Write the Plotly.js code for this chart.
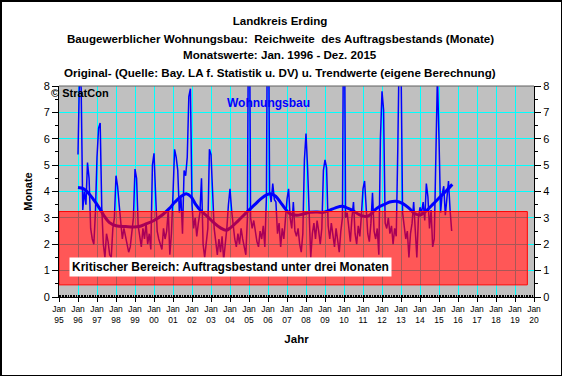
<!DOCTYPE html>
<html>
<head>
<meta charset="utf-8">
<script src="https://cdn.plot.ly/plotly-3.0.1.min.js"></script>
<style>
  html, body { margin: 0; padding: 0; background: #ffffff; }
  #chart { width: 559px; height: 373px; border-top: 2px solid #000; border-left: 2px solid #000; border-right: 1px solid #000; border-bottom: 1px solid #000; }
</style>
</head>
<body>
<div id="chart"></div>
<script>
// Monthly values (Reichweite des Auftragsbestands, Monate), Jan 1996 onward
const wb1996 = [5.4, 8.6, 7.9, 3.3, 4.0, 3.5, 5.1, 4.5, 2.6, 2.2, 2.0, 3.2];
const wb1997 = [5.3, 6.4, 6.6, 3.4, 2.0, 1.5, 2.4, 2.1, 1.6, 1.5, 2.6, 3.0];
const wb1998 = [4.6, 4.2, 3.5, 2.9, 2.2, 2.6, 2.3, 2.0, 1.7, 1.9, 2.4, 3.0];
const wb1999 = [4.85, 4.5, 2.7, 2.3, 1.9, 2.6, 2.2, 2.8, 2.0, 2.4, 1.8, 5.0];
const wb2000 = [5.45, 3.9, 2.5, 2.2, 2.0, 1.8, 2.6, 2.2, 2.5, 3.3, 1.6, 2.4];
const wb2001 = [3.9, 5.6, 5.3, 4.8, 3.2, 3.8, 2.4, 4.8, 4.6, 5.3, 7.6, 7.9];
const wb2002 = [3.5, 2.6, 3.0, 2.3, 2.8, 3.2, 4.5, 2.0, 1.5, 2.0, 2.6, 5.6];
const wb2003 = [5.4, 4.0, 2.6, 2.1, 1.6, 2.2, 1.7, 2.3, 1.4, 2.0, 2.6, 3.5];
const wb2004 = [4.1, 3.3, 2.6, 2.2, 1.9, 2.4, 2.0, 2.6, 2.2, 1.9, 1.6, 3.0];
const wb2005 = [15.0, 3.0, 2.6, 2.9, 2.4, 2.1, 1.9, 2.5, 2.2, 2.7, 1.9, 3.8];
const wb2006 = [15.0, 4.0, 3.6, 4.3, 3.7, 3.6, 2.4, 2.8, 1.9, 2.6, 2.2, 3.0];
const wb2007 = [3.7, 4.1, 3.0, 2.6, 3.6, 2.5, 2.3, 2.6, 2.0, 1.7, 2.4, 5.2];
const wb2008 = [6.2, 4.9, 2.8, 1.5, 2.4, 2.8, 2.2, 2.9, 2.5, 2.0, 2.6, 4.8];
const wb2009 = [5.2, 4.9, 2.7, 2.2, 2.8, 2.4, 1.9, 2.6, 2.2, 1.7, 2.5, 3.0];
const wb2010 = [14.0, 3.0, 3.2, 2.5, 2.1, 3.0, 3.6, 2.4, 2.0, 2.7, 2.3, 3.1];
const wb2011 = [4.1, 4.4, 3.3, 2.4, 2.1, 2.8, 3.95, 2.5, 2.2, 2.6, 1.6, 6.0];
const wb2012 = [7.8, 7.1, 2.8, 2.6, 3.0, 2.4, 2.7, 2.0, 2.6, 2.3, 5.7, 10.0];
const wb2013 = [9.0, 3.2, 2.7, 2.2, 2.5, 1.5, 2.4, 2.8, 3.6, 2.6, 1.5, 3.0];
const wb2014 = [3.4, 3.2, 3.6, 2.9, 4.3, 3.8, 2.6, 3.3, 1.9, 2.2, 5.3, 8.4];
const wb2015 = [6.0, 3.2, 3.9, 4.2, 3.1, 3.9, 4.4, 3.3, 2.5];

// Trend (eigene Berechnung): decimal year / value
const trendYear  = [1996.0, 1996.3, 1996.6, 1996.85, 1997.1, 1997.37, 1997.64, 1998.0, 1998.5, 1999.2, 1999.57, 2000.0, 2000.45, 2000.8, 2001.1, 2001.45, 2001.7, 2001.95, 2002.2, 2002.45, 2002.8, 2003.16, 2003.5, 2003.8, 2004.05, 2004.4, 2004.75, 2005.0, 2005.3, 2005.62, 2005.95, 2006.15, 2006.4, 2006.65, 2006.9, 2007.17, 2007.5, 2007.87, 2008.2, 2008.6, 2008.92, 2009.2, 2009.55, 2009.9, 2010.25, 2010.5, 2010.8, 2011.1, 2011.35, 2011.6, 2011.85, 2012.1, 2012.4, 2012.75, 2013.1, 2013.45, 2013.75, 2014.05, 2014.35, 2014.7, 2015.05, 2015.4, 2015.7];
const trendValue = [4.15, 4.1, 3.9, 3.66, 3.4, 3.08, 2.83, 2.7, 2.67, 2.67, 2.77, 2.9, 3.12, 3.35, 3.6, 3.83, 3.91, 3.8, 3.5, 3.28, 3.06, 2.81, 2.62, 2.53, 2.64, 2.87, 3.12, 3.3, 3.5, 3.72, 3.88, 3.91, 3.82, 3.6, 3.35, 3.15, 3.1, 3.15, 3.21, 3.22, 3.21, 3.28, 3.38, 3.44, 3.35, 3.26, 3.12, 3.05, 3.1, 3.28, 3.42, 3.5, 3.6, 3.63, 3.54, 3.35, 3.15, 3.12, 3.28, 3.53, 3.79, 4.04, 4.27];

// Axis ticks
const tickYears  = [1995,1996,1997,1998,1999,2000,2001,2002,2003,2004,2005,2006,2007,2008,2009,2010,2011,2012,2013,2014,2015,2016,2017,2018,2019,2020];
const tickLabels = ['95','96','97','98','99','00','01','02','03','04','05','06','07','08','09','10','11','12','13','14','15','16','17','18','19','20'];

// Critical band (unter drei Monaten)
const bandLow = 0.46, bandHigh = 3.24, bandStart = 1995, bandEnd = 2019.65;

const startYear = 1996;
const values = [].concat(wb1996, wb1997, wb1998, wb1999, wb2000, wb2001, wb2002, wb2003, wb2004, wb2005, wb2006, wb2007, wb2008, wb2009, wb2010, wb2011, wb2012, wb2013, wb2014, wb2015);
const months = values.map((v, i) => startYear + i / 12);

// layout geometry helpers (image pixel -> paper)
const PL = 59, PT = 86, PW = 475, PH = 211;
const xp = px => (px - PL) / PW;
const yp = py => (PT + PH - py) / PH;

const boldFont = 'Arial, "Liberation Sans", sans-serif';
const traces = [
  { x: months, y: values, type: 'scatter', mode: 'lines', line: { color: '#0000ff', width: 1.5 }, hoverinfo: 'skip', showlegend: false },
  { x: trendYear, y: trendValue, type: 'scatter', mode: 'lines', line: { color: '#0000ff', width: 3, shape: 'spline' }, hoverinfo: 'skip', showlegend: false },
  { x: [null], y: [null], yaxis: 'y2', type: 'scatter', mode: 'lines', showlegend: false, hoverinfo: 'skip' }
];

const titleLines = [
  'Landkreis Erding',
  'Baugewerblicher Wohnungsbau:  Reichweite  des Auftragsbestands (Monate)',
  'Monatswerte: Jan. 1996 - Dez. 2015',
  'Original- (Quelle: Bay. LA f. Statistik u. DV) u. Trendwerte (eigene Berechnung)'
];
const titleY = [21, 38, 55, 72];
const titleSize = 11.6;

const annotations = titleLines.slice(1).map((t, i) => ({
  text: '<b>' + t + '</b>', xref: 'paper', yref: 'paper', x: xp(280), y: yp(titleY[i + 1]),
  xanchor: 'center', yanchor: 'middle', showarrow: false,
  font: { family: boldFont, size: titleSize, color: '#000' }
}));
annotations.push(
  { text: '<b>© StratCon</b>', xref: 'paper', yref: 'paper', x: xp(49), y: yp(93), xanchor: 'left', yanchor: 'middle', showarrow: false, font: { family: boldFont, size: 11, color: '#000' } },
  { text: '<b>Wohnungsbau</b>', xref: 'paper', yref: 'paper', x: xp(225), y: yp(103), xanchor: 'left', yanchor: 'middle', showarrow: false, font: { family: boldFont, size: 12, color: '#0000ff' } },
  { text: '<b>Kritischer Bereich: Auftragsbestand unter drei Monaten</b>', xref: 'paper', yref: 'paper', x: xp(230), y: yp(267), xanchor: 'center', yanchor: 'middle', showarrow: false, bgcolor: '#ffffff', borderpad: 2, font: { family: boldFont, size: 12, color: '#000' } }
);

const layout = {
  width: 559, height: 373,
  margin: { l: 57, r: 27, t: 84, b: 78 },
  paper_bgcolor: '#ffffff',
  plot_bgcolor: '#c0c0c0',
  showlegend: false,
  title: { text: '<b>' + titleLines[0] + '</b>', x: xp(280), xref: 'paper', xanchor: 'center', y: 1 - 19 / 373, yanchor: 'middle', font: { family: boldFont, size: titleSize, color: '#000' } },
  xaxis: {
    range: [1995, 2020], tickmode: 'array', tickvals: tickYears, ticktext: tickLabels.map(t => 'Jan<br>' + t),
    showgrid: true, gridcolor: '#00ffff', gridwidth: 1, zeroline: false,
    showline: true, linecolor: '#000', linewidth: 1,
    ticks: 'outside', ticklen: 4, tickcolor: '#000',
    tickfont: { family: '"Liberation Sans Narrow", "Arial Narrow", Arial, sans-serif', size: 8.5, color: '#000' },
    minor: { tickmode: 'linear', tick0: 1995, dtick: 1 / 12, ticks: 'inside', ticklen: 2, tickcolor: '#000', showgrid: false },
    title: { text: '<b>Jahr</b>', standoff: 10, font: { family: boldFont, size: 11.5, color: '#000' } },
    fixedrange: true
  },
  yaxis: {
    range: [0, 8], tickmode: 'linear', tick0: 0, dtick: 1,
    showgrid: true, gridcolor: '#00ffff', gridwidth: 1, zeroline: false,
    showline: true, linecolor: '#000', linewidth: 1,
    ticks: 'outside', ticklen: 6, tickcolor: '#000',
    tickfont: { family: 'Arial, "Liberation Sans", sans-serif', size: 11, color: '#000' },
    minor: { dtick: 0.5, ticks: 'outside', ticklen: 3, tickcolor: '#000', showgrid: false },
    title: { text: '<b>Monate</b>', standoff: 8, font: { family: boldFont, size: 11, color: '#000' } },
    fixedrange: true
  },
  yaxis2: {
    range: [0, 8], overlaying: 'y', side: 'right', tickmode: 'linear', tick0: 0, dtick: 1,
    showgrid: false, zeroline: false, showline: true, linecolor: '#000', linewidth: 1,
    ticks: 'outside', ticklen: 6, tickcolor: '#000',
    tickfont: { family: 'Arial, "Liberation Sans", sans-serif', size: 11, color: '#000' },
    minor: { dtick: 0.5, ticks: 'outside', ticklen: 3, tickcolor: '#000', showgrid: false },
    fixedrange: true
  },
  shapes: [
    { type: 'rect', xref: 'x', yref: 'y', x0: bandStart, x1: bandEnd, y0: bandLow, y1: bandHigh, fillcolor: '#ffffff', line: { width: 0 }, layer: 'below' },
    { type: 'rect', xref: 'x', yref: 'y', x0: bandStart, x1: bandEnd, y0: bandLow, y1: bandHigh, fillcolor: 'rgba(255,0,0,0.66)', line: { color: '#ff0000', width: 1 }, layer: 'above' },
    { type: 'line', xref: 'paper', yref: 'paper', x0: 0, x1: 1, y0: 1, y1: 1, line: { color: '#606060', width: 1 } }
  ],
  annotations: annotations
};

Plotly.newPlot('chart', traces, layout, { displayModeBar: false, staticPlot: true });
</script>
</body>
</html>
